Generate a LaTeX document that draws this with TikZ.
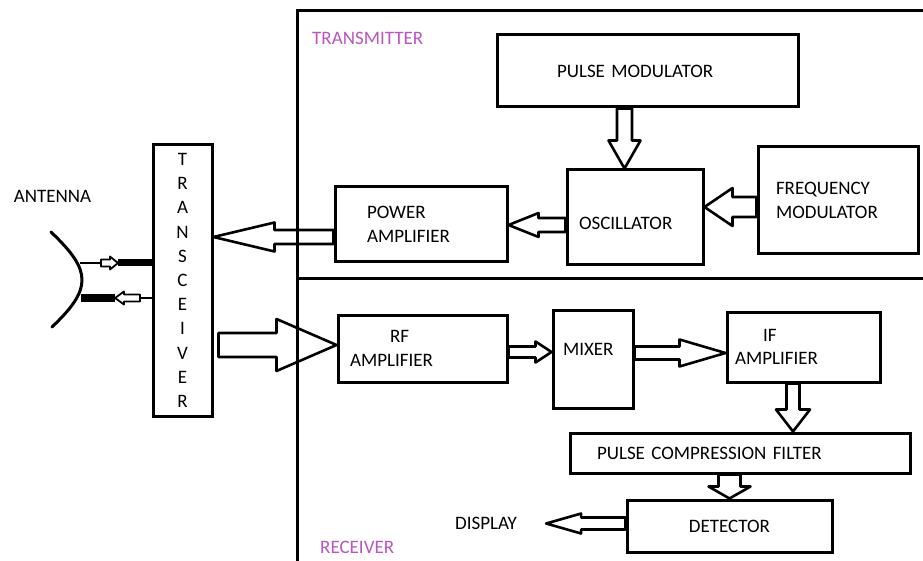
\documentclass[tikz,border=0pt]{standalone}
\usepackage{fontspec}
\setmainfont{Carlito}
\usepackage{xcolor}
\usepackage{tikz}
\usetikzlibrary{calc}

\definecolor{sectcol}{RGB}{186,84,190}

\tikzset{
  blk/.style={draw, line width=3pt, inner ysep=0pt, align=left},
  fat/.style={draw, line width=2.6pt, line join=round},
  lbl/.style={inner sep=0pt},
  sect/.style={inner sep=0pt, anchor=west, text=sectcol},
}

% hollow block arrow: [opts]{from}{to}{shaft half width}{head half width}{head length}
\newcommand{\fatarrow}[6][]{%
  \coordinate (fa-h) at ($(#3)!#6!(#2)$);
  \draw[fat,#1] ($(#2)!#4!90:(#3)$) -- ($(fa-h)!#4!-90:(#2)$) -- ($(fa-h)!#5!-90:(#2)$)
    -- (#3) -- ($(fa-h)!#5!90:(#2)$) -- ($(fa-h)!#4!90:(#2)$) -- ($(#2)!#4!-90:(#3)$) -- cycle;
}

\begin{document}
\begin{tikzpicture}[x=1pt, y=-1pt, font=\fontsize{19}{23.5}\selectfont]
  \useasboundingbox (0,0) rectangle (923,561);

  % Frame
  \draw[line width=3pt] (297,561) -- (297,11) -- (923,11);
  \draw[line width=3pt] (297,278) -- (923,278);
  \node[sect] (tx) at (312,38) {TRANSMITTER};
  \node[sect] (rx) at (320,547) {RECEIVER};

  % Transmitter
  \node[blk, minimum width=301pt, minimum height=72pt, inner xsep=60pt, text width=181pt] (pm) at (647.5,71) {PULSE MODULATOR};
  \node[blk, minimum width=136pt, minimum height=95pt, inner xsep=12pt, text width=112pt, text height=25pt] (osc) at (635,217.5) {OSCILLATOR};
  \node[blk, minimum width=160pt, minimum height=107pt, inner xsep=18pt, text width=124pt] (fm) at (838,200.5) {FREQUENCY\\MODULATOR};
  \node[blk, minimum width=172pt, minimum height=75pt, inner xsep=32pt, text width=108pt] (pa) at (421,224.5) {POWER\\AMPLIFIER};

  % Transceiver
  \node[blk, align=center, minimum width=59pt, minimum height=271pt, font=\fontsize{19}{24.2}\selectfont] (trx) at (182.5,280.5) {T\\R\\A\\N\\S\\C\\E\\I\\V\\E\\R};

  % Receiver
  \node[blk, minimum width=169pt, minimum height=67pt, inner xsep=12pt, text width=145pt] (rf) at (422.5,348.5) {\hspace*{40pt}RF\\AMPLIFIER};
  \node[blk, minimum width=80pt, minimum height=98pt, inner xsep=10pt, text width=60pt, text depth=20pt] (mix) at (593,359) {MIXER};
  \node[blk, minimum width=153pt, minimum height=70pt, inner xsep=8pt, text width=137pt] (ifa) at (803.5,347) {\hspace*{28pt}IF\\AMPLIFIER};
  \node[blk, minimum width=340pt, minimum height=40pt, inner xsep=27pt, text width=286pt] (pcf) at (740,453) {PULSE COMPRESSION FILTER};
  \node[blk, align=center, minimum width=205pt, minimum height=52pt] (det) at (729.5,526) {DETECTOR};
  \node[lbl] (disp) at (486,523.5) {DISPLAY};

  % Antenna
  \node[lbl] (ant) at (52.5,196) {ANTENNA};
  \draw[line width=3pt, line cap=round] (51,232) .. controls (72,252) and (82,266) .. (82,280)
    .. controls (82,294) and (72,308) .. (52,327);
  \coordinate (ant-u) at (80,263);
  \coordinate (ant-l) at (81,298);
  \coordinate (trx-u) at (trx.west |- ant-u);
  \coordinate (trx-l) at (trx.west |- ant-l);
  \path (ant-u) ++(21,0) coordinate (u1) ++(17,0) coordinate (u2);
  \draw[line width=2.5pt] (ant-u) -- (u1);
  \draw[line width=7pt] (u2) -- (trx-u);
  \fatarrow[fill=white, line width=1.8pt]{u1}{u2}{3.5pt}{6.5pt}{8pt}
  \path (ant-l) ++(34,0) coordinate (l1) ++(25,0) coordinate (l2);
  \draw[line width=8pt] (ant-l) -- (l1);
  \draw[line width=2.5pt] (l2) -- (trx-l);
  \fatarrow[fill=white, line width=1.8pt]{l2}{l1}{3.5pt}{6.5pt}{9pt}

  % Transmitter arrows
  \coordinate (pm-o) at ([xshift=-23pt]pm.south);
  \coordinate (osc-n) at (pm-o |- osc.north);
  \fatarrow{pm-o}{osc-n}{7.5pt}{16pt}{28pt}
  \coordinate (fm-o) at ([yshift=-6.5pt]fm.west);
  \coordinate (osc-e) at (osc.east |- fm-o);
  \fatarrow{fm-o}{osc-e}{10pt}{19pt}{28pt}
  \coordinate (osc-w) at ([yshift=-7.5pt]osc.west);
  \coordinate (pa-e) at (pa.east |- osc-w);
  \fatarrow{osc-w}{pa-e}{7pt}{12pt}{30pt}
  \coordinate (pa-w) at ([yshift=-12.5pt]pa.west);
  \coordinate (trx-e) at (trx.east |- pa-w);
  \fatarrow{pa-w}{trx-e}{7pt}{14.5pt}{61pt}

  % Receiver arrows
  \coordinate (rf-w) at ([yshift=3.5pt]rf.west);
  \path (trx.east |- rf-w) ++(5,0) coordinate (trx-o);
  \fatarrow{trx-o}{rf-w}{12pt}{26pt}{60pt}
  \coordinate (rf-e) at ([yshift=-3.5pt]rf.east);
  \coordinate (mix-w) at (mix.west |- rf-e);
  \fatarrow{rf-e}{mix-w}{5.5pt}{10.5pt}{16pt}
  \coordinate (mix-e) at ([yshift=6pt]mix.east);
  \coordinate (if-w) at (ifa.west |- mix-e);
  \fatarrow{mix-e}{if-w}{6.5pt}{13.5pt}{46pt}
  \coordinate (if-s) at ([xshift=-10.5pt]ifa.south);
  \coordinate (pcf-n) at (if-s |- pcf.north);
  \fatarrow{if-s}{pcf-n}{6.5pt}{17pt}{22pt}
  \coordinate (pcf-s) at (pcf.south -| det.north);
  \fatarrow{pcf-s}{det.north}{11pt}{21pt}{12pt}
  \coordinate (det-w) at (det.west |- disp);
  \path (disp.east) ++(29,0) coordinate (disp-e);
  \fatarrow{det-w}{disp-e}{6pt}{10pt}{35pt}
\end{tikzpicture}
\end{document}
